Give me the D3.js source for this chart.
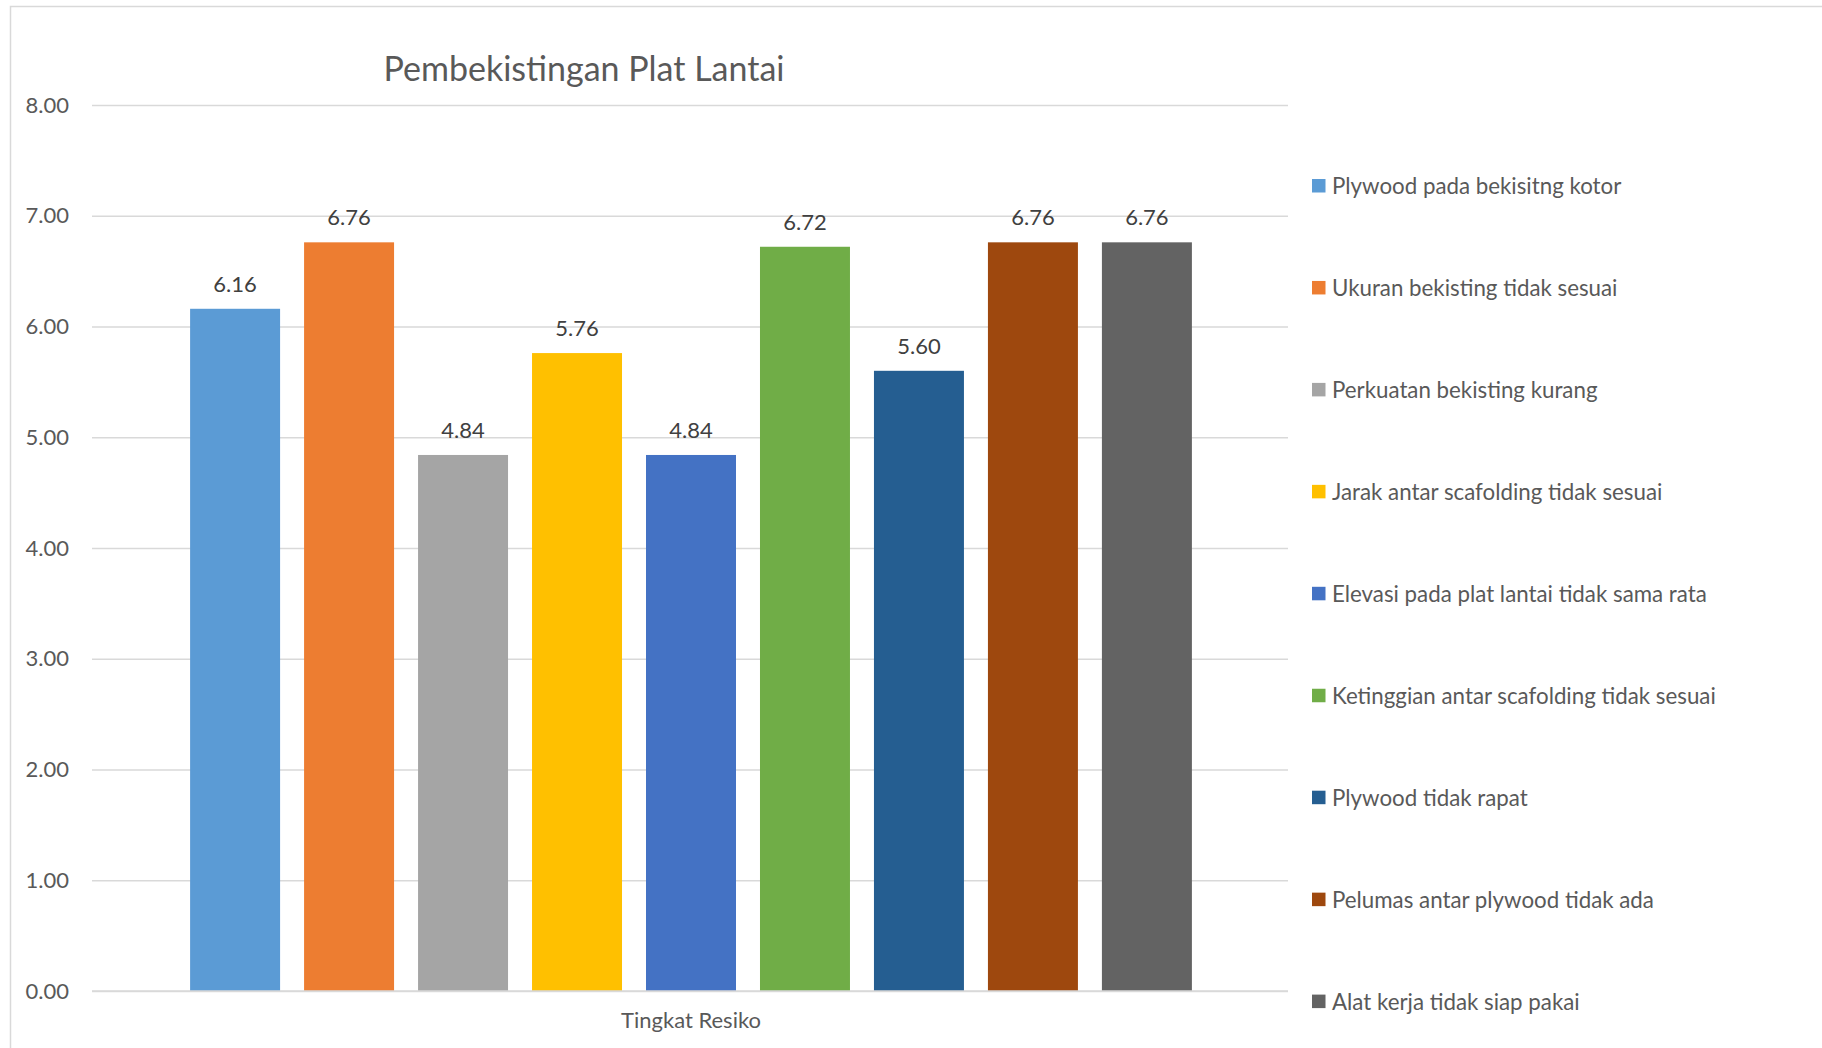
<!DOCTYPE html>
<html>
<head>
<meta charset="utf-8">
<script src="https://cdn.jsdelivr.net/npm/d3@7"></script>
<style>
  body { margin: 0; background: #fff; }
  text { font-family: Lato, "Noto Sans", sans-serif; }
</style>
</head>
<body>
<div id="chart"></div>
<script>
// Data
var categories = ["Tingkat Resiko"];
var seriesNames = [
    "Plywood pada bekisitng kotor",
    "Ukuran bekisting tidak sesuai",
    "Perkuatan bekisting kurang",
    "Jarak antar scafolding tidak sesuai",
    "Elevasi pada plat lantai tidak sama rata",
    "Ketinggian antar scafolding tidak sesuai",
    "Plywood tidak rapat",
    "Pelumas antar plywood tidak ada",
    "Alat kerja tidak siap pakai"
];
var seriesValues = [6.16, 6.76, 4.84, 5.76, 4.84, 6.72, 5.60, 6.76, 6.76];
var yTicks = [0, 1, 2, 3, 4, 5, 6, 7, 8];
var colors = ["#5B9BD5", "#ED7D31", "#A5A5A5", "#FFC000", "#4472C4",
              "#70AD47", "#255E91", "#9E480E", "#636363"];

// SVG area
var svgWidth = 1822;
var svgHeight = 1048;

var margin = { top: 105, left: 92 };
var width = 1196;
var height = 886;

var svg = d3.select("#chart")
    .append("svg")
    .attr("width", svgWidth)
    .attr("height", svgHeight);

// chart border (only left and top show in the frame)
svg.append("rect")
    .attr("x", 10.5)
    .attr("y", 6.5)
    .attr("width", 1900)
    .attr("height", 1200)
    .attr("fill", "none")
    .attr("stroke", "#D9D9D9")
    .attr("stroke-width", 1.5);

var chartGroup = svg.append("g")
    .attr("transform", `translate(${margin.left}, ${margin.top})`);

// Scales
var x0 = d3.scaleBand()
    .domain(categories)
    .range([1, width + 1])
    .paddingInner(0)
    .paddingOuter(0.083);

var x1 = d3.scaleBand()
    .domain(seriesNames)
    .range([0, x0.bandwidth()])
    .paddingInner(0.2105)
    .paddingOuter(0.105);

var yScale = d3.scaleLinear()
    .domain([0, 8])
    .range([height, 0]);

// gridlines + y labels
var leftAxis = d3.axisLeft(yScale)
    .tickValues(yTicks)
    .tickSize(-width)
    .tickPadding(23)
    .tickFormat(d3.format(".2f"));

var yAxisG = chartGroup.append("g").call(leftAxis);
yAxisG.select(".domain").remove();
yAxisG.selectAll("line").attr("stroke", "#D9D9D9").attr("stroke-width", 1.5);
yAxisG.selectAll("text")
    .attr("fill", "#595959")
    .style("font-size", "22px");

// bars
var catGroup = chartGroup.selectAll(".cat")
    .data(categories)
    .enter()
    .append("g")
    .attr("transform", d => `translate(${x0(d)}, 0)`);

catGroup.selectAll("rect")
    .data(seriesNames)
    .enter()
    .append("rect")
    .attr("x", d => x1(d))
    .attr("y", (d, i) => yScale(seriesValues[i]))
    .attr("width", x1.bandwidth())
    .attr("height", (d, i) => height - yScale(seriesValues[i]))
    .attr("fill", (d, i) => colors[i]);

// value labels
catGroup.selectAll(".valText")
    .data(seriesNames)
    .enter()
    .append("text")
    .attr("class", "valText")
    .attr("x", d => x1(d) + x1.bandwidth() / 2)
    .attr("y", (d, i) => yScale(seriesValues[i]) - 17)
    .attr("text-anchor", "middle")
    .attr("fill", "#404040")
    .style("font-size", "22px")
    .text((d, i) => seriesValues[i].toFixed(2));

// baseline on top of bars
chartGroup.append("line")
    .attr("x1", 0)
    .attr("x2", width)
    .attr("y1", height)
    .attr("y2", height)
    .attr("stroke", "#D9D9D9")
    .attr("stroke-width", 1.5);

// category label
chartGroup.selectAll(".catText")
    .data(categories)
    .enter()
    .append("text")
    .attr("x", d => x0(d) + x0.bandwidth() / 2)
    .attr("y", height + 37)
    .attr("text-anchor", "middle")
    .attr("fill", "#595959")
    .style("font-size", "22px")
    .text(d => d);

// Title
svg.append("text")
    .attr("x", 584)
    .attr("y", 81)
    .attr("text-anchor", "middle")
    .attr("fill", "#595959")
    .style("font-size", "34px")
    .text("Pembekistingan Plat Lantai");

// Legend
var legend = svg.append("g")
    .attr("transform", "translate(1312, 186)");

var legendItem = legend.selectAll(".legendItem")
    .data(seriesNames)
    .enter()
    .append("g")
    .attr("transform", (d, i) => `translate(0, ${i * 101.95})`);

legendItem.append("rect")
    .attr("x", 0)
    .attr("y", -7)
    .attr("width", 13.5)
    .attr("height", 13.5)
    .attr("fill", (d, i) => colors[i]);

legendItem.append("text")
    .attr("x", 20)
    .attr("y", 8)
    .attr("fill", "#595959")
    .style("font-size", "22.3px")
    .text(d => d);
</script>
</body>
</html>
